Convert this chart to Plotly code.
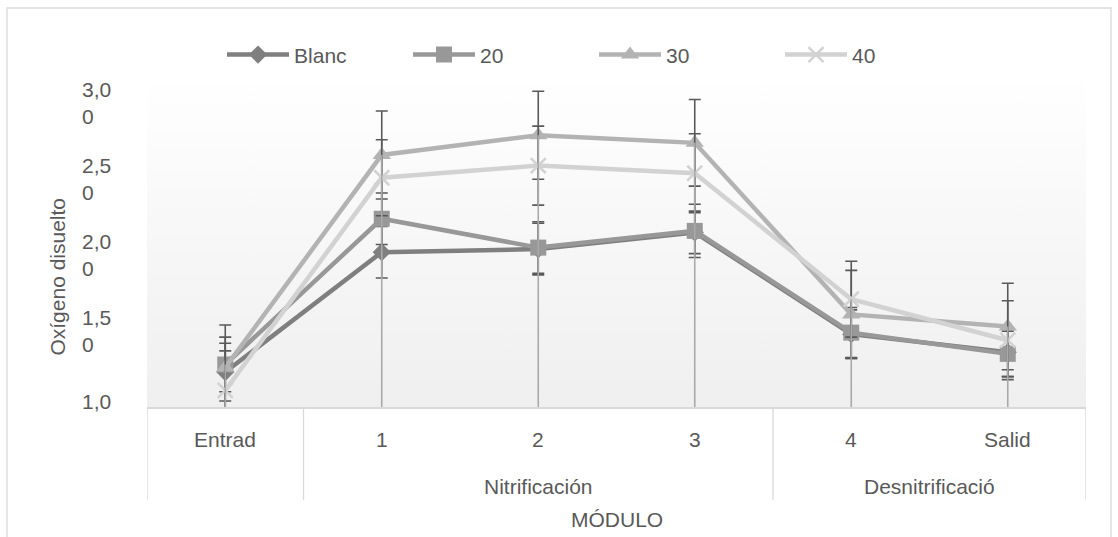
import base64
import plotly.graph_objects as go

# Categories (module) and their process stage
modulos = ["Entrad", "1", "2", "3", "4", "Salid"]
etapas = ["", "Nitrificación", "Desnitrificació"]
etapa_tamanos = [1, 3, 2]

# Dissolved oxygen per series
blanc = [1.23, 2.02, 2.04, 2.15, 1.48, 1.36]
s20 = [1.28, 2.24, 2.05, 2.16, 1.49, 1.35]
s30 = [1.26, 2.66, 2.79, 2.74, 1.61, 1.53]
s40 = [1.11, 2.51, 2.59, 2.54, 1.71, 1.44]

# Standard deviations (symmetric error bars)
err_blanc = [0.19, 0.17, 0.17, 0.14, 0.16, 0.16]
err_20 = [0.18, 0.17, 0.17, 0.175, 0.165, 0.15]
err_30 = [0.28, 0.29, 0.29, 0.285, 0.29, 0.285]
err_40 = [0.26, 0.25, 0.26, 0.26, 0.25, 0.26]

# Y axis ticks
y_ticks = [1.0, 1.5, 2.0, 2.5, 3.0]
y_tick_text = ["1,0", "1,5<br>0", "2,0<br>0", "2,5<br>0", "3,0<br>0"]

Y_MIN, Y_MAX = 1.0, 3.2
TXT = "#595959"
FONT = "Liberation Sans, Arial, sans-serif"
FS = 21

x = list(range(len(modulos)))

series = [
    ("Blanc", blanc, err_blanc, "#7f7f7f", "diamond", 14),
    ("20", s20, err_20, "#989898", "square", 16),
    ("30", s30, err_30, "#b3b3b3", "triangle-up", 16),
    ("40", s40, err_40, "#d2d2d2", "x-thin-open", 15),
]

fig = go.Figure()
for name, vals, err, col, sym, size in series:
    marker = dict(symbol=sym, size=size, color=col)
    if sym.startswith("x-thin"):
        marker["line"] = dict(color=col, width=2.5)
    fig.add_trace(go.Scatter(
        x=x, y=vals, name=name, mode="lines+markers",
        line=dict(color=col, width=4.5),
        marker=marker,
        error_y=dict(type="data", array=err, symmetric=True,
                     color="#595959", thickness=1.6, width=6),
    ))

# drop lines from the highest series down to the category axis
shapes = []
for i in x:
    top = max(blanc[i], s20[i], s30[i], s40[i])
    shapes.append(dict(type="line", xref="x", yref="y", x0=i, x1=i,
                       y0=Y_MIN, y1=top, layer="above",
                       line=dict(color="#a9a9a9", width=1.6)))

# category table below the axis
bounds = [-0.5]
for n in etapa_tamanos:
    bounds.append(bounds[-1] + n)
for b in bounds:
    shapes.append(dict(type="line", xref="x", yref="paper", x0=b, x1=b,
                       y0=0, y1=-0.278, line=dict(color="#d9d9d9", width=1.3)))

# chart border
shapes.append(dict(type="rect", xref="paper", yref="paper",
                   x0=-0.1491, x1=1.0266, y0=-0.45, y1=1.1946,
                   line=dict(color="#d9d9d9", width=1.3), layer="below"))

annotations = []
for i, m in enumerate(modulos):
    annotations.append(dict(x=i, y=-0.138, xref="x", yref="paper", text=m,
                            showarrow=False, font=dict(size=FS, color=TXT, family=FONT)))
for k, name in enumerate(etapas):
    if not name:
        continue
    center = (bounds[k] + bounds[k + 1]) / 2
    annotations.append(dict(x=center, y=-0.279, xref="x", yref="paper", text=name,
                            showarrow=False, font=dict(size=FS, color=TXT, family=FONT)))
annotations.append(dict(x=0.5, y=-0.377, xref="paper", yref="paper", text="MÓDULO",
                        showarrow=False, font=dict(size=FS, color=TXT, family=FONT)))
annotations.append(dict(x=-0.1097, y=0.392, xref="paper", yref="paper",
                        text="Oxígeno disuelto", textangle=-90, showarrow=False,
                        font=dict(size=FS, color=TXT, family=FONT)))
for v, t in zip(y_ticks, y_tick_text):
    annotations.append(dict(x=-0.0714, y=v, xref="paper", yref="y", text=t,
                            xanchor="left", yanchor="middle", align="left",
                            yshift=6 if "<br>" not in t else 0,
                            showarrow=False,
                            font=dict(size=FS, color=TXT, family=FONT)))

svg = ('<svg xmlns="http://www.w3.org/2000/svg" width="100" height="100" '
       'preserveAspectRatio="none"><defs><linearGradient id="g" x1="0" y1="0" '
       'x2="0" y2="1"><stop offset="0" stop-color="#ffffff"/>'
       '<stop offset="1" stop-color="#efefef"/></linearGradient></defs>'
       '<rect width="100" height="100" fill="url(#g)"/></svg>')
bg = "data:image/svg+xml;base64," + base64.b64encode(svg.encode()).decode()

fig.update_layout(
    width=1118, height=537,
    margin=dict(l=147, r=32, t=73, b=130, autoexpand=False),
    paper_bgcolor="white", plot_bgcolor="white",
    showlegend=True,
    legend=dict(orientation="h", x=0.0799, xanchor="left", y=1.054, yanchor="middle",
                font=dict(size=FS, color=TXT, family=FONT), itemwidth=62,
                entrywidth=109, entrywidthmode="pixels",
                bgcolor="rgba(0,0,0,0)"),
    xaxis=dict(range=[-0.5, 5.5], showticklabels=False, showgrid=False, zeroline=False,
               showline=True, linecolor="#d9d9d9", linewidth=1.5, ticks=""),
    yaxis=dict(range=[Y_MIN, Y_MAX], showticklabels=False, showgrid=False,
               zeroline=False, showline=False, ticks=""),
    shapes=shapes,
    annotations=annotations,
    images=[dict(source=bg, xref="paper", yref="paper", x=0, y=1, sizex=1, sizey=1,
                 sizing="stretch", layer="below", xanchor="left", yanchor="top")],
    hovermode=False,
)

fig.write_html("out.html")
